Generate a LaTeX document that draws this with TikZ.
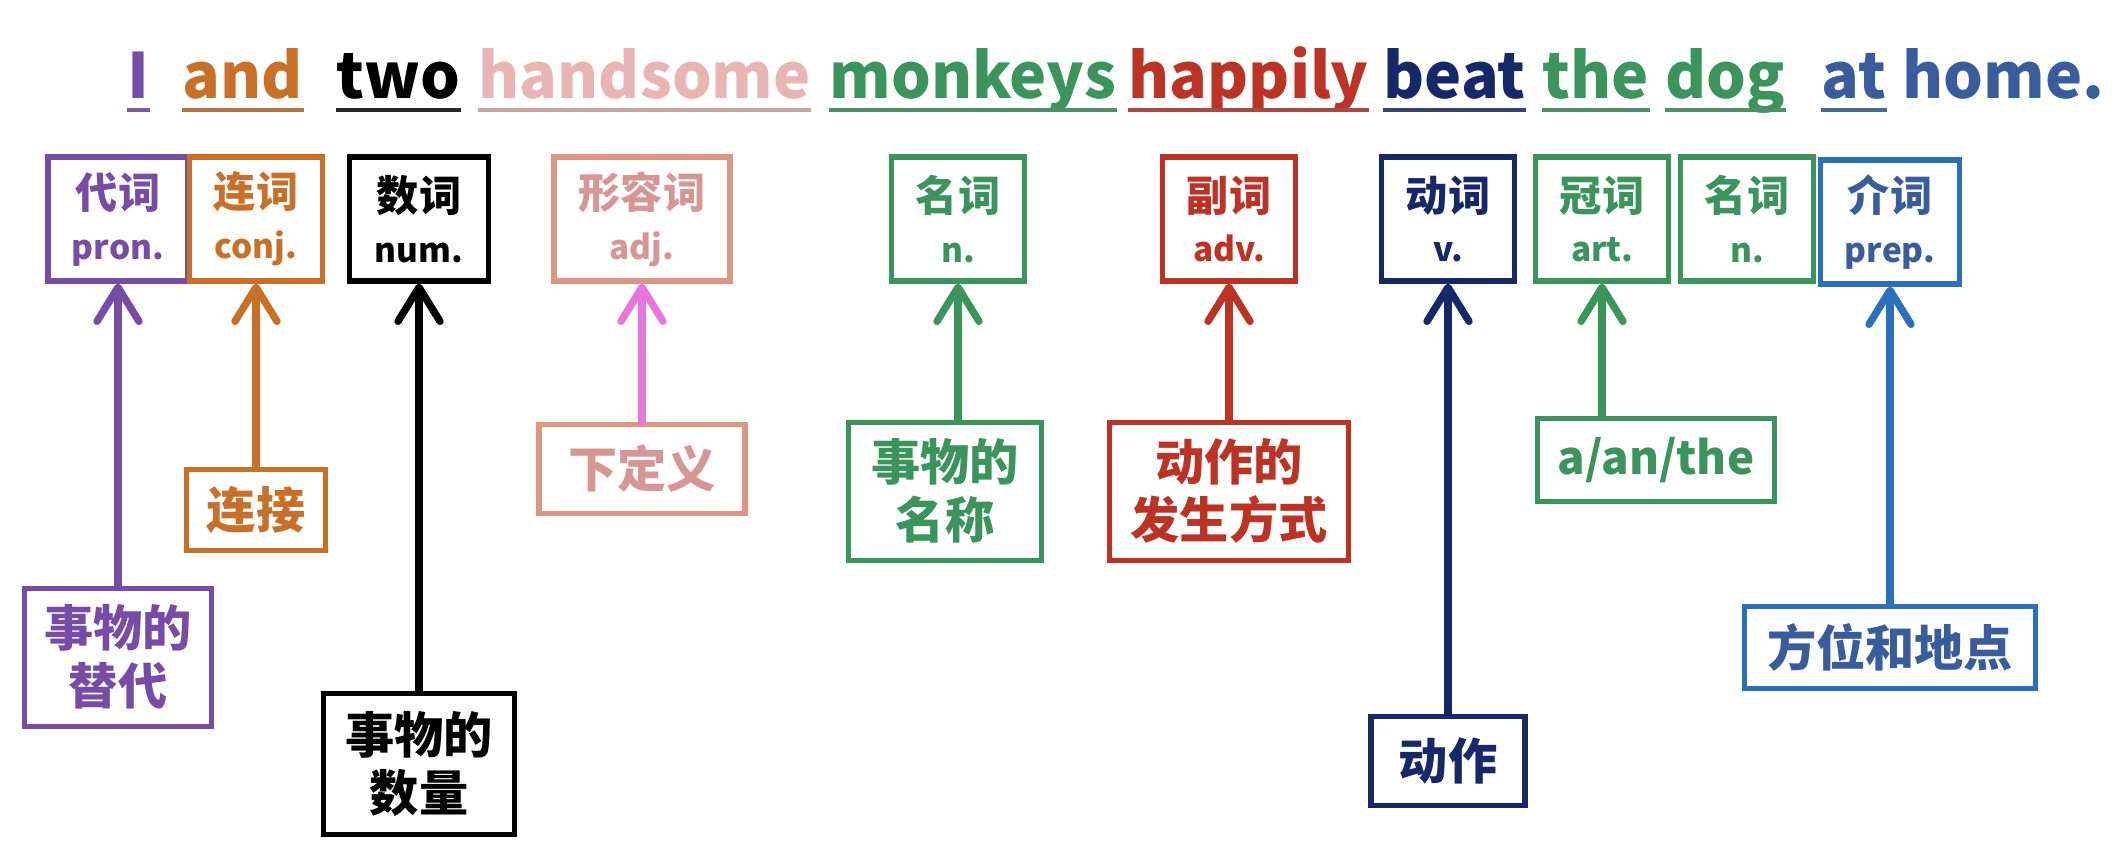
\documentclass[tikz,border=0pt]{standalone}
\usepackage{fontspec}
\setmainfont{Noto Sans CJK SC}
\usetikzlibrary{positioning,arrows.meta,calc}
\definecolor{wpurple}{RGB}{118,76,166}
\definecolor{worange}{RGB}{200,112,40}
\definecolor{wpink}{RGB}{232,180,180}
\definecolor{wsalmon}{RGB}{222,150,132}
\definecolor{wrose}{RGB}{214,150,150}
\definecolor{wmagenta}{RGB}{232,118,222}
\definecolor{wgreen}{RGB}{58,148,92}
\definecolor{wred}{RGB}{188,50,36}
\definecolor{wnavy}{RGB}{22,40,104}
\definecolor{wblue}{RGB}{42,112,188}
\definecolor{wsteel}{RGB}{56,92,156}
\tikzset{
  word/.style={anchor=base west, inner sep=0pt, text=#1, font=\fontsize{17.8}{22}\selectfont\bfseries},
  uline/.style={line width=1.3pt, #1!70!gray},
  tag/.style={draw=#1, text=#1, line width=1.5pt, align=center, minimum width=1.3cm, minimum height=1.24cm, inner xsep=0.24cm, font=\fontsize{12}{14.5}\selectfont\bfseries},
  note/.style={draw=#1, text=#1, line width=1.5pt, align=center, inner xsep=0.2cm, font=\fontsize{14}{16.5}\selectfont\bfseries},
  arr/.style={-{Straight Barb[length=3.4mm,width=4.2mm,round]}, line width=2.1pt, line cap=round, #1}
}
\newcommand{\abbr}[1]{{\fontsize{9.5}{14.5}\selectfont #1}}

\begin{document}
\begin{tikzpicture}
    \useasboundingbox (0,0) rectangle (21.28,-8.54);
    % the sentence
    \node[word=wpurple] (wI) at (1.27,-0.98) {I};
    \node[word=worange] (wand) at (1.82,-0.98) {and};
    \node[word=black] (wtwo) at (3.36,-0.98) {two};
    \node[word=wpink] (whandsome) at (4.78,-0.98) {handsome};
    \node[word=wgreen] (wmonkeys) at (8.29,-0.98) {monkeys};
    \node[word=wred] (whappily) at (11.28,-0.98) {happily};
    \node[word=wnavy] (wbeat) at (13.83,-0.98) {beat};
    \node[word=wgreen] (wthe) at (15.42,-0.98) {the};
    \node[word=wgreen] (wdog) at (16.65,-0.98) {dog};
    \node[word=wsteel] (wat) at (18.21,-0.98) {at};
    \node[word=wsteel] (whome) at (19.02,-0.98) {home.};
    \foreach \w/\c in {wI/wpurple, wand/worange, wtwo/black, whandsome/wpink, wmonkeys/wgreen,
        whappily/wred, wbeat/wnavy, wthe/wgreen, wdog/wgreen, wat/wsteel}
      \draw[uline=\c] ($(\w.base west)+(0,-0.12)$) -- ($(\w.base east)+(0,-0.12)$);

    % parts of speech
    \node[tag=wpurple, minimum width=1.38cm] (pron) at (1.18,-2.19) {代词\\\abbr{pron.}};
    \node[tag=worange, minimum width=1.33cm] (conj) at (2.56,-2.19) {连词\\\abbr{conj.}};
    \node[tag=black, minimum width=1.39cm] (num) at (4.19,-2.19) {数词\\\abbr{num.}};
    \node[tag=wrose, draw=wsalmon, minimum width=1.76cm] (adj) at (6.42,-2.19) {形容词\\\abbr{adj.}};
    \node[tag=wgreen] (noun) at (9.58,-2.19) {名词\\\abbr{n.}};
    \node[tag=wred] (adv) at (12.29,-2.19) {副词\\\abbr{adv.}};
    \node[tag=wnavy] (verb) at (14.48,-2.19) {动词\\\abbr{v.}};
    \node[tag=wgreen] (art) at (16.02,-2.19) {冠词\\\abbr{art.}};
    \node[tag=wgreen] (noun2) at (17.47,-2.19) {名词\\\abbr{n.}};
    \node[tag=wblue, text=wsteel, minimum width=1.39cm] (prep) at (18.90,-2.22) {介词\\\abbr{prep.}};

    % meanings
    \node[note=wpurple, below=3.02cm of pron, minimum width=1.87cm, minimum height=1.38cm] (substitute) {事物的\\替代};
    \node[note=worange, below=1.83cm of conj, minimum width=1.39cm, minimum height=0.81cm] (link) {连接};
    \node[note=black, below=4.07cm of num, minimum width=1.91cm, minimum height=1.41cm] (amount) {事物的\\数量};
    \node[note=wrose, draw=wsalmon, below=1.38cm of adj, minimum width=2.06cm, minimum height=0.89cm] (define) {下定义};
    \node[note=wgreen, below=1.36cm of noun, xshift=-0.13cm, minimum width=1.93cm, minimum height=1.38cm] (name) {事物的\\名称};
    \node[note=wred, below=1.36cm of adv, minimum width=2.39cm, minimum height=1.38cm] (manner) {动作的\\发生方式};
    \node[note=wnavy, below=4.30cm of verb, minimum width=1.54cm, minimum height=0.89cm] (action) {动作};
    \node[note=wgreen, below=1.32cm of art, xshift=0.54cm, minimum width=2.30cm, minimum height=0.83cm, font=\fontsize{13}{16}\selectfont\bfseries] (articles) {a/an/the};
    \node[note=wblue, text=wsteel, below=3.17cm of prep, minimum width=2.91cm, minimum height=0.82cm] (place) {方位和地点};

    \draw[arr=wpurple] (substitute) -- (pron);
    \draw[arr=worange] (link) -- (conj);
    \draw[arr=black] (amount) -- (num);
    \draw[arr=wmagenta] (define) -- (adj);
    \draw[arr=wgreen] (name.north -| noun) -- (noun);
    \draw[arr=wred] (manner) -- (adv);
    \draw[arr=wnavy] (action) -- (verb);
    \draw[arr=wgreen] (articles.north -| art) -- (art);
    \draw[arr=wblue] (place) -- (prep);
\end{tikzpicture}
\end{document}
